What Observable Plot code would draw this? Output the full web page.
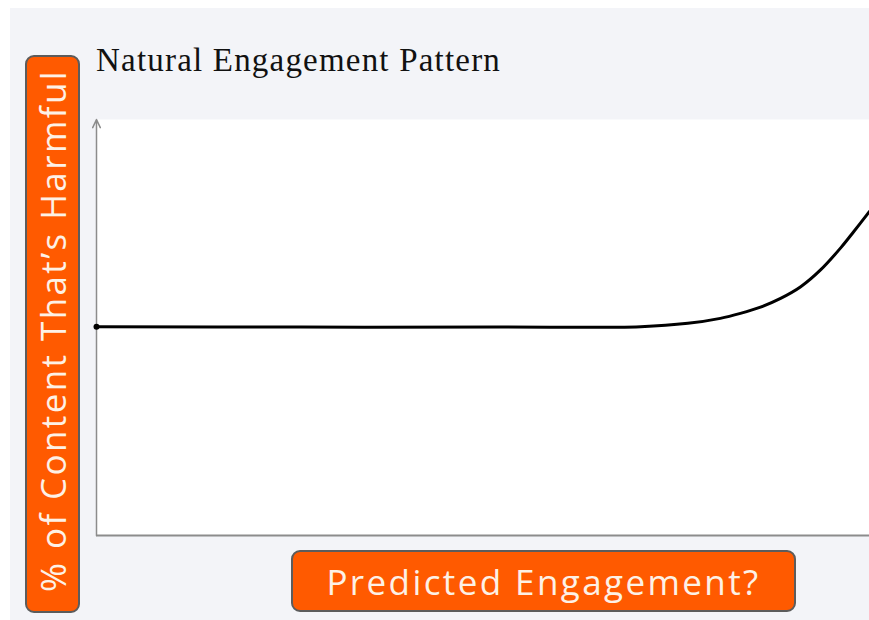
<!DOCTYPE html>
<html>
<head>
<meta charset="utf-8">
<script src="https://cdn.jsdelivr.net/npm/d3@7"></script>
<script src="https://cdn.jsdelivr.net/npm/@observablehq/plot@0.6"></script>
<style>
  html, body { margin: 0; padding: 0; background: #ffffff; }
  #wrap { position: relative; width: 869px; height: 620px; overflow: hidden; }
  #chart { position: absolute; left: 10px; top: 8px; }
  .title { position: absolute; left: 96px; top: 44px; font-family: "Liberation Serif", serif; font-size: 33px; line-height: 33px; letter-spacing: 1.2px; color: #111; white-space: nowrap; }
  .box { position: absolute; background: #ff5a00; border: 2px solid #5c5c5c; border-radius: 9px; box-sizing: border-box; color: #fdf1e6; font-family: "Open Sans", sans-serif; font-size: 35px; letter-spacing: 2.4px; display: flex; align-items: center; justify-content: center; white-space: nowrap; }
  .ylab { left: 25px; top: 55px; width: 55px; height: 558px; }
  .ylab span { writing-mode: vertical-rl; transform: rotate(180deg); margin-top: -8px; }
  .xlab { left: 291px; top: 550px; width: 505px; height: 62px; }
</style>
</head>
<body>
<div id="wrap">
  <div id="chart"></div>
  <div class="title" id="title"></div>
  <div class="box ylab"><span id="ylab"></span></div>
  <div class="box xlab" id="xlab"></div>
</div>
<script>
const titleText = "Natural Engagement Pattern";
const xLabel = "Predicted Engagement?";
const yLabel = "% of Content That\u2019s Harmful";

// Engagement (0–100) and harmful share (0–100)
const engagement = [0, 26.4, 52.3, 70.4, 76.5, 80.7, 83.3, 85.9, 88.5, 91.1, 93.7, 96.3, 97.9, 100];
const harmful    = [50.2, 50.1, 50.1, 50.2, 51.0, 52.2, 53.4, 54.9, 57.0, 59.8, 63.9, 69.2, 72.9, 77.9];

const data = engagement.map((x, i) => ({x, y: harmful[i]}));

document.getElementById("title").textContent = titleText;
document.getElementById("xlab").textContent = xLabel;
document.getElementById("ylab").textContent = yLabel;

const chart = Plot.plot({
  width: 859,
  height: 612,
  marginLeft: 86,
  marginRight: 0,
  marginTop: 111,
  marginBottom: 85,
  style: {background: "#f3f4f8", overflow: "visible"},
  x: {domain: [0, 100], axis: null},
  y: {domain: [0, 100], axis: null},
  marks: [
    Plot.frame({fill: "white", stroke: null}),
    Plot.ruleY([0], {stroke: "#8c8c8c", strokeWidth: 2}),
    Plot.arrow([{x1: 0, y1: 0, x2: 0, y2: 100}], {x1: "x1", y1: "y1", x2: "x2", y2: "y2", stroke: "#8c8c8c", strokeWidth: 1.5, headLength: 9, headAngle: 50}),
    Plot.line(data, {x: "x", y: "y", curve: "catmull-rom", stroke: "#000", strokeWidth: 3}),
    Plot.dot(data.slice(0, 1), {x: "x", y: "y", r: 3, fill: "#000"})
  ]
});
document.getElementById("chart").appendChild(chart);
</script>
</body>
</html>
